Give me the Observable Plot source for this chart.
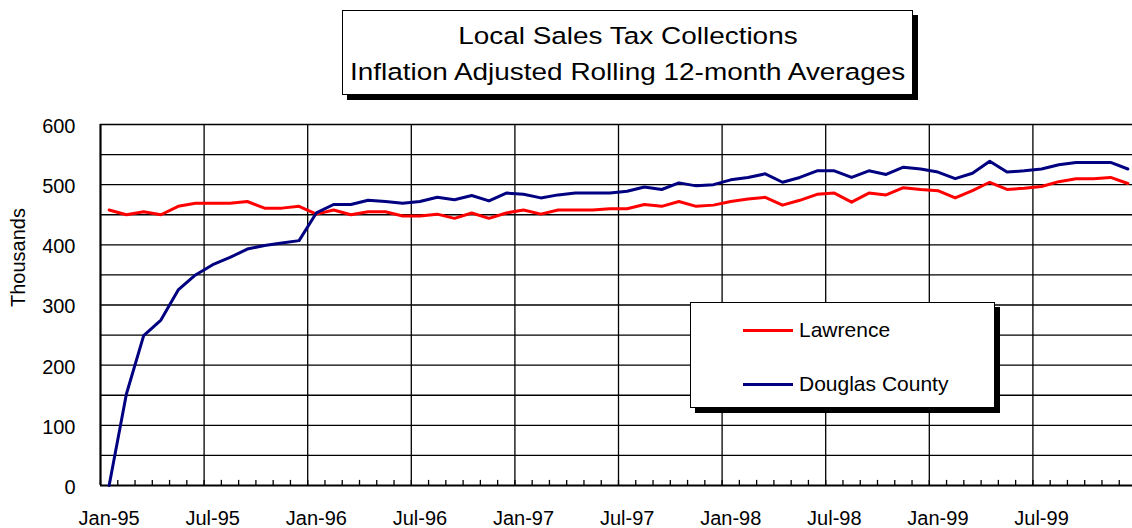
<!DOCTYPE html>
<html>
<head>
<meta charset="utf-8">
<script src="https://cdn.jsdelivr.net/npm/d3@7"></script>
<script src="https://cdn.jsdelivr.net/npm/@observablehq/plot@0.6"></script>
<style>
  body { margin: 0; background: #fff; font-family: "Liberation Sans", Arial, sans-serif; }
  #wrap { position: relative; width: 1132px; height: 528px; overflow: hidden; background: #fff; }
  #chart { position: absolute; left: 0; top: 0; }
  #title { position: absolute; left: 342px; top: 10px; width: 569px; height: 83px; border: 1px solid #000;
           background: #fff; box-shadow: 5px 5px 0 #000; text-align: center; padding-top: 7px; box-sizing: content-box; height: 76px; }
  #title .ln { height: 36px; line-height: 36px; font-size: 24.5px; color: #000; white-space: nowrap; }
  #title .ln span { display: inline-block; transform: scaleX(1.14); transform-origin: center; }
  #legend { position: absolute; left: 690px; top: 302px; width: 303px; height: 104px; border: 1px solid #000;
            background: #fff; box-shadow: 5px 5px 0 #000; }
  .item { position: absolute; left: 52px; height: 24px; }
  .item .sw { position: absolute; left: 0; top: 11px; width: 50px; height: 3px; }
  .item .lb { position: absolute; left: 56px; top: 0; font-size: 21px; line-height: 24px; white-space: nowrap; color: #000; }
</style>
</head>
<body>
<div id="wrap">
  <div id="chart"></div>
  <div id="title"></div>
  <div id="legend"></div>
</div>
<script>
// ---- data ----
const titleLines = ["Local Sales Tax Collections", "Inflation Adjusted Rolling 12-month Averages"];
const yLabel = "Thousands";
const seriesNames = ["Lawrence", "Douglas County"];
const seriesColors = ["#ff0000", "#000080"];

const months = [
  "Jan-95","Feb-95","Mar-95","Apr-95","May-95","Jun-95","Jul-95","Aug-95","Sep-95","Oct-95","Nov-95","Dec-95",
  "Jan-96","Feb-96","Mar-96","Apr-96","May-96","Jun-96","Jul-96","Aug-96","Sep-96","Oct-96","Nov-96","Dec-96",
  "Jan-97","Feb-97","Mar-97","Apr-97","May-97","Jun-97","Jul-97","Aug-97","Sep-97","Oct-97","Nov-97","Dec-97",
  "Jan-98","Feb-98","Mar-98","Apr-98","May-98","Jun-98","Jul-98","Aug-98","Sep-98","Oct-98","Nov-98","Dec-98",
  "Jan-99","Feb-99","Mar-99","Apr-99","May-99","Jun-99","Jul-99","Aug-99","Sep-99","Oct-99","Nov-99","Dec-99"
];

const lawrence = [
  458, 450, 455, 450, 464, 469, 469, 469, 472, 461, 461, 464,
  451, 458, 450, 455, 455, 448, 448, 451, 444, 453, 444, 453,
  458, 451, 458, 458, 458, 460, 460, 467, 464, 472, 464, 466,
  472, 476, 479, 466, 474, 484, 486, 471, 486, 483, 495, 492,
  490, 478, 490, 504, 492, 494, 497, 505, 510, 510, 512, 502
];

const douglas = [
    0, 152, 249, 275, 325, 350, 367, 379, 393, 399, 403, 407,
  453, 467, 467, 474, 472, 469, 472, 479, 475, 482, 473, 486,
  484, 478, 483, 486, 486, 486, 489, 496, 492, 503, 498, 500,
  508, 512, 518, 504, 512, 523, 523, 512, 523, 517, 529, 526,
  521, 510, 519, 539, 521, 523, 526, 533, 537, 537, 537, 526
];

const xTickLabels = ["Jan-95","Jul-95","Jan-96","Jul-96","Jan-97","Jul-97","Jan-98","Jul-98","Jan-99","Jul-99"];
const yTickValues = [0, 100, 200, 300, 400, 500, 600];
const yGridValues = [50, 100, 150, 200, 250, 300, 350, 400, 450, 500, 550, 600];

// ---- build tables ----
const rows = [];
months.forEach((m, i) => {
  rows.push({month: m, idx: i, series: seriesNames[0], value: lawrence[i]});
  rows.push({month: m, idx: i, series: seriesNames[1], value: douglas[i]});
});
const xTickPos = xTickLabels.map(l => months.indexOf(l) + 0.5);
const boundaries = d3.range(0, months.length + 1);
const majorBoundaries = boundaries.filter(b => b > 0 && b % 6 === 0);

const chart = Plot.plot({
  width: 1132,
  height: 528,
  marginLeft: 100,
  marginRight: 0,
  marginTop: 124,
  marginBottom: 43,
  style: {fontFamily: "Liberation Sans, Arial, sans-serif", fontSize: "20px", color: "#000", background: "transparent", overflow: "visible"},
  x: {type: "linear", domain: [0, months.length], range: [100, 1136]},
  y: {domain: [0, 600], range: [485, 124]},
  marks: [
    Plot.ruleY(yGridValues, {stroke: "#000", strokeWidth: 1.3}),
    Plot.ruleX(majorBoundaries, {y1: 0, y2: 600, stroke: "#000", strokeWidth: 1.3}),
    Plot.ruleX(boundaries, {y1: 0, y2: 8.5, stroke: "#000", strokeWidth: 1.3}),
    Plot.ruleX([0], {y1: 0, y2: 600, stroke: "#000", strokeWidth: 2.2}),
    Plot.ruleY([0], {stroke: "#000", strokeWidth: 2.2}),
    Plot.line(rows.filter(d => d.series === seriesNames[0]), {x: d => d.idx + 0.5, y: "value", stroke: seriesColors[0], strokeWidth: 3, strokeLinejoin: "round"}),
    Plot.line(rows.filter(d => d.series === seriesNames[1]), {x: d => d.idx + 0.5, y: "value", stroke: seriesColors[1], strokeWidth: 3, strokeLinejoin: "round"}),
    Plot.axisY(yTickValues, {tickSize: 0, tickPadding: 25, dy: 2, fontSize: 20, label: null}),
    Plot.axisX(xTickPos, {tickSize: 0, tickPadding: 25, fontSize: 20, label: null,
      tickFormat: d => months[Math.floor(d)]}),
    Plot.text([yLabel], {frameAnchor: "left", dx: -82, dy: 2, rotate: -90, fontSize: 20})
  ]
});
document.getElementById("chart").appendChild(chart);

// title
const t = document.getElementById("title");
titleLines.forEach(s => {
  const d = document.createElement("div");
  d.className = "ln";
  const sp = document.createElement("span");
  sp.textContent = s;
  d.appendChild(sp);
  t.appendChild(d);
});

// legend
const lg = document.getElementById("legend");
seriesNames.forEach((n, i) => {
  const it = document.createElement("div");
  it.className = "item";
  it.style.top = (15 + i * 54) + "px";
  const sw = document.createElement("div");
  sw.className = "sw";
  sw.style.background = seriesColors[i];
  const lb = document.createElement("div");
  lb.className = "lb";
  lb.textContent = n;
  it.appendChild(sw);
  it.appendChild(lb);
  lg.appendChild(it);
});
</script>
</body>
</html>
